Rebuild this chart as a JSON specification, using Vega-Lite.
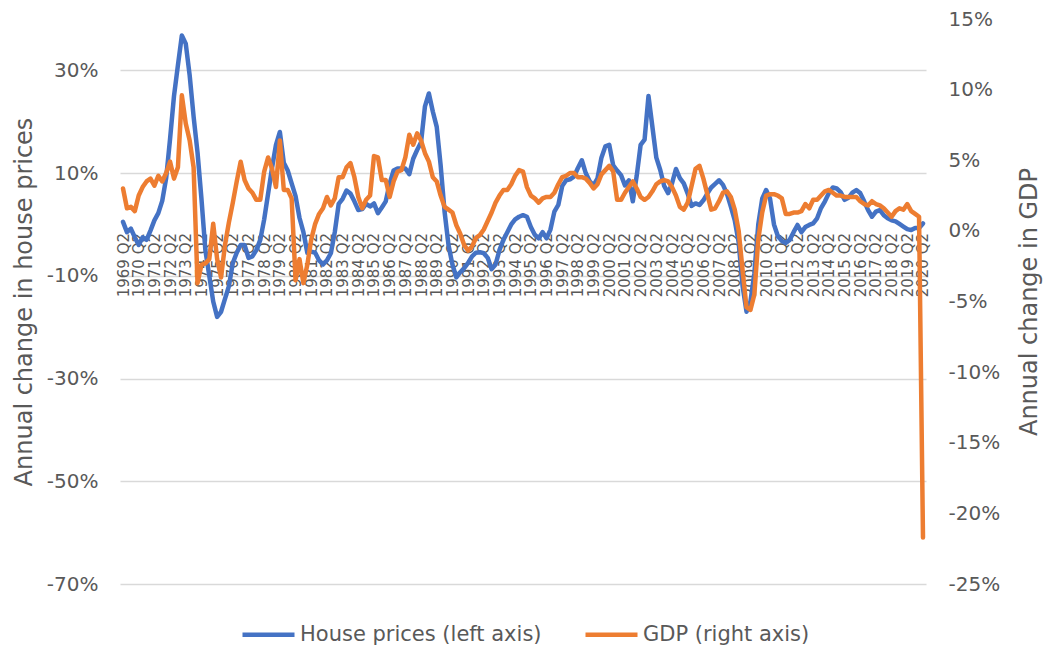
{
"$schema":"https://vega.github.io/schema/vega-lite/v6.json",
"width":806,"height":565,
"autosize":{"type":"none"},
"padding":{"left":120,"top":19,"right":119,"bottom":61},
"background":"white",
"config":{"font":"DejaVu Sans","view":{"stroke":null},"axis":{"labelColor":"#595959","titleColor":"#595959","titleFontWeight":"normal","domain":false,"ticks":false,"tickSize":0}},
"data":{"values":[
{"q":"1969 Q2","hp":0.5,"gdp":3.0},{"q":"1969 Q3","hp":-1.5,"gdp":1.6},{"q":"1969 Q4","hp":-0.8,"gdp":1.7},
{"q":"1970 Q1","hp":-2.5,"gdp":1.4},{"q":"1970 Q2","hp":-4.0,"gdp":2.5},{"q":"1970 Q3","hp":-2.5,"gdp":3.1},{"q":"1970 Q4","hp":-3.0,"gdp":3.5},
{"q":"1971 Q1","hp":-1.2,"gdp":3.7},{"q":"1971 Q2","hp":0.8,"gdp":3.2},{"q":"1971 Q3","hp":2.2,"gdp":3.9},{"q":"1971 Q4","hp":4.6,"gdp":3.5},
{"q":"1972 Q1","hp":9.0,"gdp":4.1},{"q":"1972 Q2","hp":16.7,"gdp":4.9},{"q":"1972 Q3","hp":25.0,"gdp":3.7},{"q":"1972 Q4","hp":31.0,"gdp":4.5},
{"q":"1973 Q1","hp":36.8,"gdp":9.6},{"q":"1973 Q2","hp":35.2,"gdp":7.6},{"q":"1973 Q3","hp":29.0,"gdp":6.4},{"q":"1973 Q4","hp":21.0,"gdp":4.5},
{"q":"1974 Q1","hp":14.0,"gdp":-3.7},{"q":"1974 Q2","hp":5.0,"gdp":-2.4},{"q":"1974 Q3","hp":-5.0,"gdp":-2.3},{"q":"1974 Q4","hp":-10.0,"gdp":-2.0},
{"q":"1975 Q1","hp":-15.0,"gdp":0.5},{"q":"1975 Q2","hp":-18.0,"gdp":-2.0},{"q":"1975 Q3","hp":-17.0,"gdp":-3.3},{"q":"1975 Q4","hp":-14.5,"gdp":-1.0},
{"q":"1976 Q1","hp":-12.0,"gdp":0.6},{"q":"1976 Q2","hp":-7.5,"gdp":2.0},{"q":"1976 Q3","hp":-5.5,"gdp":3.5},{"q":"1976 Q4","hp":-4.0,"gdp":4.9},
{"q":"1977 Q1","hp":-4.0,"gdp":3.6},{"q":"1977 Q2","hp":-6.5,"gdp":3.0},{"q":"1977 Q3","hp":-6.2,"gdp":2.7},{"q":"1977 Q4","hp":-5.0,"gdp":2.2},
{"q":"1978 Q1","hp":-3.0,"gdp":2.2},{"q":"1978 Q2","hp":1.0,"gdp":4.2},{"q":"1978 Q3","hp":6.0,"gdp":5.2},{"q":"1978 Q4","hp":11.0,"gdp":4.4},
{"q":"1979 Q1","hp":15.5,"gdp":3.1},{"q":"1979 Q2","hp":18.0,"gdp":6.4},{"q":"1979 Q3","hp":12.0,"gdp":2.9},{"q":"1979 Q4","hp":10.5,"gdp":2.9},
{"q":"1980 Q1","hp":8.0,"gdp":2.3},{"q":"1980 Q2","hp":5.5,"gdp":-3.5},{"q":"1980 Q3","hp":1.3,"gdp":-2.0},{"q":"1980 Q4","hp":-1.5,"gdp":-3.7},
{"q":"1981 Q1","hp":-5.5,"gdp":-2.4},{"q":"1981 Q2","hp":-5.3,"gdp":-0.6},{"q":"1981 Q3","hp":-5.5,"gdp":0.5},{"q":"1981 Q4","hp":-7.0,"gdp":1.2},
{"q":"1982 Q1","hp":-7.8,"gdp":1.6},{"q":"1982 Q2","hp":-7.0,"gdp":2.4},{"q":"1982 Q3","hp":-5.6,"gdp":1.8},{"q":"1982 Q4","hp":-1.5,"gdp":2.3},
{"q":"1983 Q1","hp":4.0,"gdp":3.8},{"q":"1983 Q2","hp":5.0,"gdp":3.8},{"q":"1983 Q3","hp":6.6,"gdp":4.5},{"q":"1983 Q4","hp":6.0,"gdp":4.8},
{"q":"1984 Q1","hp":4.5,"gdp":3.8},{"q":"1984 Q2","hp":2.8,"gdp":2.4},{"q":"1984 Q3","hp":3.0,"gdp":1.6},{"q":"1984 Q4","hp":4.0,"gdp":2.2},
{"q":"1985 Q1","hp":3.5,"gdp":2.5},{"q":"1985 Q2","hp":4.1,"gdp":5.3},{"q":"1985 Q3","hp":2.2,"gdp":5.2},{"q":"1985 Q4","hp":3.3,"gdp":3.6},
{"q":"1986 Q1","hp":4.5,"gdp":3.6},{"q":"1986 Q2","hp":8.0,"gdp":2.4},{"q":"1986 Q3","hp":10.5,"gdp":3.5},{"q":"1986 Q4","hp":10.9,"gdp":4.2},
{"q":"1987 Q1","hp":10.9,"gdp":4.3},{"q":"1987 Q2","hp":10.9,"gdp":5.2},{"q":"1987 Q3","hp":9.8,"gdp":6.8},{"q":"1987 Q4","hp":12.8,"gdp":6.1},
{"q":"1988 Q1","hp":14.5,"gdp":6.9},{"q":"1988 Q2","hp":16.0,"gdp":6.4},{"q":"1988 Q3","hp":23.0,"gdp":5.5},{"q":"1988 Q4","hp":25.5,"gdp":4.9},
{"q":"1989 Q1","hp":22.0,"gdp":3.8},{"q":"1989 Q2","hp":19.0,"gdp":3.5},{"q":"1989 Q3","hp":11.5,"gdp":2.5},{"q":"1989 Q4","hp":2.5,"gdp":1.7},
{"q":"1990 Q1","hp":-4.0,"gdp":1.5},{"q":"1990 Q2","hp":-7.8,"gdp":1.3},{"q":"1990 Q3","hp":-10.3,"gdp":0.4},{"q":"1990 Q4","hp":-9.3,"gdp":-0.2},
{"q":"1991 Q1","hp":-8.5,"gdp":-1.0},{"q":"1991 Q2","hp":-7.5,"gdp":-1.4},{"q":"1991 Q3","hp":-6.2,"gdp":-1.1},{"q":"1991 Q4","hp":-5.5,"gdp":-0.5},
{"q":"1992 Q1","hp":-5.4,"gdp":-0.3},{"q":"1992 Q2","hp":-5.6,"gdp":0.1},{"q":"1992 Q3","hp":-6.5,"gdp":0.7},{"q":"1992 Q4","hp":-8.7,"gdp":1.3},
{"q":"1993 Q1","hp":-7.8,"gdp":2.0},{"q":"1993 Q2","hp":-5.0,"gdp":2.5},{"q":"1993 Q3","hp":-3.0,"gdp":2.9},{"q":"1993 Q4","hp":-1.5,"gdp":2.9},
{"q":"1994 Q1","hp":0.0,"gdp":3.3},{"q":"1994 Q2","hp":1.0,"gdp":3.9},{"q":"1994 Q3","hp":1.5,"gdp":4.3},{"q":"1994 Q4","hp":1.8,"gdp":4.2},
{"q":"1995 Q1","hp":1.5,"gdp":3.1},{"q":"1995 Q2","hp":-0.5,"gdp":2.5},{"q":"1995 Q3","hp":-2.0,"gdp":2.3},{"q":"1995 Q4","hp":-2.7,"gdp":2.0},
{"q":"1996 Q1","hp":-1.5,"gdp":2.3},{"q":"1996 Q2","hp":-2.7,"gdp":2.4},{"q":"1996 Q3","hp":-1.0,"gdp":2.4},{"q":"1996 Q4","hp":2.5,"gdp":2.7},
{"q":"1997 Q1","hp":3.8,"gdp":3.3},{"q":"1997 Q2","hp":7.5,"gdp":3.8},{"q":"1997 Q3","hp":8.6,"gdp":3.9},{"q":"1997 Q4","hp":8.8,"gdp":4.1},
{"q":"1998 Q1","hp":9.3,"gdp":4.1},{"q":"1998 Q2","hp":11.0,"gdp":3.8},{"q":"1998 Q3","hp":12.5,"gdp":3.8},{"q":"1998 Q4","hp":10.0,"gdp":3.7},
{"q":"1999 Q1","hp":8.4,"gdp":3.4},{"q":"1999 Q2","hp":7.6,"gdp":3.0},{"q":"1999 Q3","hp":9.0,"gdp":3.3},{"q":"1999 Q4","hp":13.0,"gdp":4.0},
{"q":"2000 Q1","hp":15.2,"gdp":4.3},{"q":"2000 Q2","hp":15.5,"gdp":4.6},{"q":"2000 Q3","hp":11.5,"gdp":4.2},{"q":"2000 Q4","hp":10.5,"gdp":2.2},
{"q":"2001 Q1","hp":9.6,"gdp":2.2},{"q":"2001 Q2","hp":7.6,"gdp":2.7},{"q":"2001 Q3","hp":8.6,"gdp":3.1},{"q":"2001 Q4","hp":4.5,"gdp":3.5},
{"q":"2002 Q1","hp":9.5,"gdp":3.0},{"q":"2002 Q2","hp":15.5,"gdp":2.4},{"q":"2002 Q3","hp":16.5,"gdp":2.2},{"q":"2002 Q4","hp":25.0,"gdp":2.4},
{"q":"2003 Q1","hp":19.0,"gdp":2.8},{"q":"2003 Q2","hp":13.0,"gdp":3.3},{"q":"2003 Q3","hp":10.6,"gdp":3.5},{"q":"2003 Q4","hp":7.5,"gdp":3.6},
{"q":"2004 Q1","hp":6.1,"gdp":3.5},{"q":"2004 Q2","hp":8.0,"gdp":3.1},{"q":"2004 Q3","hp":10.8,"gdp":2.5},{"q":"2004 Q4","hp":9.0,"gdp":1.7},
{"q":"2005 Q1","hp":8.0,"gdp":1.5},{"q":"2005 Q2","hp":6.0,"gdp":2.0},{"q":"2005 Q3","hp":3.6,"gdp":3.2},{"q":"2005 Q4","hp":4.1,"gdp":4.4},
{"q":"2006 Q1","hp":3.8,"gdp":4.6},{"q":"2006 Q2","hp":4.7,"gdp":3.7},{"q":"2006 Q3","hp":6.0,"gdp":2.6},{"q":"2006 Q4","hp":7.2,"gdp":1.5},
{"q":"2007 Q1","hp":7.9,"gdp":1.6},{"q":"2007 Q2","hp":8.6,"gdp":2.1},{"q":"2007 Q3","hp":7.7,"gdp":2.7},{"q":"2007 Q4","hp":6.0,"gdp":2.8},
{"q":"2008 Q1","hp":3.5,"gdp":2.4},{"q":"2008 Q2","hp":0.8,"gdp":1.5},{"q":"2008 Q3","hp":-3.5,"gdp":0.0},{"q":"2008 Q4","hp":-12.0,"gdp":-2.8},
{"q":"2009 Q1","hp":-17.0,"gdp":-5.4},{"q":"2009 Q2","hp":-15.0,"gdp":-5.6},{"q":"2009 Q3","hp":-9.5,"gdp":-4.5},{"q":"2009 Q4","hp":0.0,"gdp":-0.6},
{"q":"2010 Q1","hp":5.0,"gdp":1.3},{"q":"2010 Q2","hp":6.7,"gdp":2.5},{"q":"2010 Q3","hp":5.0,"gdp":2.6},{"q":"2010 Q4","hp":0.0,"gdp":2.6},
{"q":"2011 Q1","hp":-2.3,"gdp":2.5},{"q":"2011 Q2","hp":-3.2,"gdp":2.3},{"q":"2011 Q3","hp":-3.6,"gdp":1.2},{"q":"2011 Q4","hp":-3.0,"gdp":1.2},
{"q":"2012 Q1","hp":-1.5,"gdp":1.3},{"q":"2012 Q2","hp":-0.1,"gdp":1.3},{"q":"2012 Q3","hp":-1.5,"gdp":1.4},{"q":"2012 Q4","hp":-0.5,"gdp":1.9},
{"q":"2013 Q1","hp":-0.1,"gdp":1.6},{"q":"2013 Q2","hp":0.2,"gdp":2.2},{"q":"2013 Q3","hp":1.2,"gdp":2.2},{"q":"2013 Q4","hp":3.2,"gdp":2.5},
{"q":"2014 Q1","hp":4.5,"gdp":2.8},{"q":"2014 Q2","hp":6.1,"gdp":2.9},{"q":"2014 Q3","hp":7.2,"gdp":2.7},{"q":"2014 Q4","hp":7.0,"gdp":2.5},
{"q":"2015 Q1","hp":6.3,"gdp":2.5},{"q":"2015 Q2","hp":4.8,"gdp":2.4},{"q":"2015 Q3","hp":5.2,"gdp":2.4},{"q":"2015 Q4","hp":6.2,"gdp":2.4},
{"q":"2016 Q1","hp":6.7,"gdp":2.4},{"q":"2016 Q2","hp":6.1,"gdp":2.1},{"q":"2016 Q3","hp":4.5,"gdp":1.9},{"q":"2016 Q4","hp":2.8,"gdp":1.8},
{"q":"2017 Q1","hp":1.5,"gdp":2.1},{"q":"2017 Q2","hp":2.5,"gdp":1.9},{"q":"2017 Q3","hp":2.8,"gdp":1.8},{"q":"2017 Q4","hp":1.8,"gdp":1.6},
{"q":"2018 Q1","hp":1.2,"gdp":1.3},{"q":"2018 Q2","hp":0.8,"gdp":1.0},{"q":"2018 Q3","hp":0.6,"gdp":1.4},{"q":"2018 Q4","hp":0.1,"gdp":1.6},
{"q":"2019 Q1","hp":-0.4,"gdp":1.5},{"q":"2019 Q2","hp":-0.9,"gdp":1.9},{"q":"2019 Q3","hp":-1.1,"gdp":1.4},{"q":"2019 Q4","hp":-0.7,"gdp":1.2},
{"q":"2020 Q1","hp":-0.7,"gdp":1.0},{"q":"2020 Q2","hp":0.2,"gdp":-21.7}
]},
"encoding":{
 "x":{"field":"q","type":"ordinal","sort":null,"scale":{"type":"point","padding":0.77},
  "axis":{"title":null,"grid":false,"labelAngle":-90,"labelFontSize":15,"labelPadding":8,"offset":-359.5,"labelOverlap":false,
   "values":["1969 Q2","1970 Q2","1971 Q2","1972 Q2","1973 Q2","1974 Q2","1975 Q2","1976 Q2","1977 Q2","1978 Q2","1979 Q2","1980 Q2","1981 Q2","1982 Q2","1983 Q2","1984 Q2","1985 Q2","1986 Q2","1987 Q2","1988 Q2","1989 Q2","1990 Q2","1991 Q2","1992 Q2","1993 Q2","1994 Q2","1995 Q2","1996 Q2","1997 Q2","1998 Q2","1999 Q2","2000 Q2","2001 Q2","2002 Q2","2003 Q2","2004 Q2","2005 Q2","2006 Q2","2007 Q2","2008 Q2","2009 Q2","2010 Q2","2011 Q2","2012 Q2","2013 Q2","2014 Q2","2015 Q2","2016 Q2","2017 Q2","2018 Q2","2019 Q2","2020 Q2"]}}
},
"layer":[
 {"mark":{"type":"line","strokeWidth":4.5,"strokeJoin":"round","strokeCap":"round"},
  "encoding":{
   "y":{"field":"hp","type":"quantitative","scale":{"domain":[-70,40],"nice":false,"zero":false},
    "axis":{"title":"Annual change in house prices","values":[-70,-50,-30,-10,10,30],"labelExpr":"datum.value + '%'","labelFontSize":20,"labelPadding":22,"titleFontSize":24,"titlePadding":10,"grid":true,"gridColor":"#D9D9D9","gridWidth":1.3}},
   "color":{"datum":"House prices (left axis)","type":"nominal",
    "scale":{"domain":["House prices (left axis)","GDP (right axis)"],"range":["#4472C4","#ED7D31"]},
    "legend":{"title":null,"orient":"none","legendX":120,"legendY":587,"direction":"horizontal","symbolType":"stroke","symbolSize":2704,"symbolStrokeWidth":4.5,"labelFontSize":21,"labelColor":"#595959","labelOffset":3,"labelLimit":0,"columnPadding":34}}
  }},
 {"mark":{"type":"line","strokeWidth":4.5,"strokeJoin":"round","strokeCap":"round"},
  "encoding":{
   "y":{"field":"gdp","type":"quantitative","scale":{"domain":[-25,15],"nice":false,"zero":false},
    "axis":{"orient":"right","title":"Annual change in GDP","values":[-25,-20,-15,-10,-5,0,5,10,15],"labelExpr":"datum.value + '%'","labelFontSize":20,"labelPadding":22,"titleFontSize":24,"titlePadding":18,"titleAngle":-90,"titleBaseline":"top","grid":false}},
   "color":{"datum":"GDP (right axis)","type":"nominal"}
  }}
],
"resolve":{"scale":{"y":"independent"}}
}
